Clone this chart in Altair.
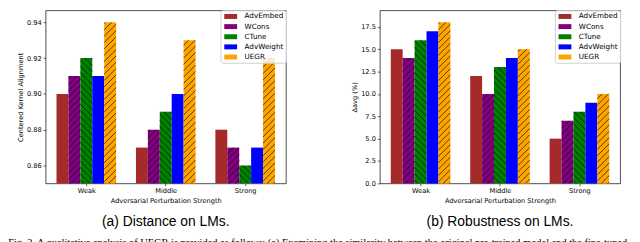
import altair as alt
import pandas as pd

groups = ["Weak", "Middle", "Strong"]
methods = ["AdvEmbed", "WCons", "CTune", "AdvWeight", "UEGR"]
colors = ["#a52a2a", "#800080", "#008000", "#0000ff", "#ffa500"]
hatches = ["", "/", "\\", "", "/"]

cka_values = {
    "AdvEmbed": [0.90, 0.87, 0.88],
    "WCons": [0.91, 0.88, 0.87],
    "CTune": [0.92, 0.89, 0.86],
    "AdvWeight": [0.91, 0.90, 0.87],
    "UEGR": [0.94, 0.93, 0.92],
}
rob_values = {
    "AdvEmbed": [15, 12, 5],
    "WCons": [14, 10, 7],
    "CTune": [16, 13, 8],
    "AdvWeight": [17, 14, 9],
    "UEGR": [18, 15, 10],
}
cka_ticks = [0.86, 0.88, 0.90, 0.92, 0.94]
rob_ticks = [0, 2.5, 5, 7.5, 10, 12.5, 15, 17.5, 20]

x_title = "Adversarial Perturbation Strength"
caption_a = "(a) Distance on LMs."
caption_b = "(b) Robustness on LMs."
body_text = ("Fig. 2.  A qualitative analysis of UEGR is provided as follows: (a) Examining the similarity "
             "between the original pre-trained model and the fine-tuned")

W = 243
H_FULL = 181
CUT = 6
H = H_FULL - CUT
BAR_W = 0.15
XLO, XHI = -0.5125, 2.5125
HATCH_GAP = 6.4

AX_FONT = "DejaVu Sans"
AX_SIZE = 6.7
LEG_SIZE = 7.3

label_expr = "[" + ",".join("'%s'" % g for g in groups) + "][datum.value]"


def hatch_segments(x0, x1, v, ylo, sx, sy, kind):
    X0, X1 = (x0 - XLO) * sx, (x1 - XLO) * sx
    Yb, Yt = 0.0, (v - ylo) * sy
    s = 1 if kind == "/" else -1
    segs = []
    cands = [Yb - s * X0, Yb - s * X1, Yt - s * X0, Yt - s * X1]
    k_lo = int(min(cands) // HATCH_GAP) - 1
    k_hi = int(max(cands) // HATCH_GAP) + 2
    for k in range(k_lo, k_hi):
        c = k * HATCH_GAP
        if s == 1:
            a, b = Yb - c, Yt - c
        else:
            a, b = c - Yt, c - Yb
        lo, hi = max(a, X0), min(b, X1)
        if hi - lo < 0.3:
            continue
        ya, yb = s * lo + c, s * hi + c
        segs.append((lo / sx + XLO, ya / sy + ylo, hi / sx + XLO, yb / sy + ylo))
    return segs


def panel(values, ylo, yhi_full, ticks, fmt, ytitle, caption):
    yhi = yhi_full - (yhi_full - ylo) * CUT / H_FULL
    sx = W / (XHI - XLO)
    sy = H / (yhi - ylo)
    rows, hrows = [], []
    for i, m in enumerate(methods):
        for g, v in enumerate(values[m]):
            xc = g + (i - 2) * BAR_W
            rows.append({"method": m, "group": groups[g], "x": xc - BAR_W / 2,
                         "x2": xc + BAR_W / 2, "y": v, "y0": ylo})
            if hatches[i]:
                for (a, b, c, d) in hatch_segments(xc - BAR_W / 2, xc + BAR_W / 2, v, ylo, sx, sy, hatches[i]):
                    hrows.append({"method": m, "hx": a, "hy": b, "hx2": c, "hy2": d})
    df = pd.DataFrame(rows)
    hdf = pd.DataFrame(hrows)
    xs = alt.Scale(domain=[XLO, XHI], nice=False, zero=False)
    ys = alt.Scale(domain=[ylo, yhi], nice=False, zero=False)
    x_axis = alt.Axis(values=[0, 1, 2], labelExpr=label_expr, grid=False)
    y_axis = alt.Axis(values=ticks, format=fmt, grid=False)
    bars = alt.Chart(df).mark_bar(strokeWidth=0).encode(
        x=alt.X("x:Q", scale=xs, title=x_title, axis=x_axis),
        x2="x2:Q",
        y=alt.Y("y:Q", scale=ys, title=ytitle, axis=y_axis),
        y2="y0:Q",
        color=alt.Color("method:N", scale=alt.Scale(domain=methods, range=colors),
                        legend=alt.Legend(title=None, orient="none", legendX=177, legendY=0,
                                          symbolType="M-1.625,-0.625H1.625V0.625H-1.625Z",
                                          symbolSize=64, symbolOffset=4, labelOffset=10,
                                          rowPadding=2.25, padding=2.2,
                                          labelFont=AX_FONT, labelFontSize=LEG_SIZE,
                                          labelColor="#000", fillColor="rgba(255,255,255,0.8)",
                                          strokeColor="#d0d0d0", cornerRadius=2,
                                          symbolStrokeWidth=0)),
    )
    hatch = alt.Chart(hdf).mark_rule(color="#000", strokeWidth=0.75, opacity=0.85).encode(
        x=alt.X("hx:Q", scale=xs, title=x_title, axis=x_axis), x2="hx2:Q",
        y=alt.Y("hy:Q", scale=ys, title=ytitle, axis=y_axis), y2="hy2:Q",
    )
    return alt.layer(bars, hatch).properties(
        width=W, height=H,
        title=alt.TitleParams(caption, orient="bottom", anchor="middle", frame="group",
                              font="Liberation Sans", fontSize=14, fontWeight="normal",
                              color="#000", offset=11),
    )


left = panel(cka_values, 0.85, 0.95, cka_ticks, ".2f", "Centered Kernel Alignment", caption_a)
right = panel(rob_values, 0.0, 20.0, rob_ticks, ".1f", "\u0394avg (%)", caption_b)

chart = alt.hconcat(left, right, spacing=65).resolve_scale(
    color="independent"
).resolve_legend(
    color="independent"
).properties(
    padding={"left": 0, "top": 0, "right": 0, "bottom": 0},
    title=alt.TitleParams(body_text, orient="bottom", anchor="start", frame="bounds",
                          font="Liberation Serif", fontSize=10.5, fontWeight="normal",
                          color="#000", offset=9, dx=-9),
).configure_view(stroke="#222", strokeWidth=0.8).configure_axis(
    labelFont=AX_FONT, labelFontSize=AX_SIZE, labelColor="#000",
    titleFont=AX_FONT, titleFontSize=AX_SIZE, titleFontWeight="normal", titleColor="#000",
    tickSize=2.5, tickColor="#000", tickWidth=0.6, labelPadding=2, titlePadding=3,
    domain=False, labelOverlap=False,
)

chart.save("out.html", embed_options={"renderer": "svg", "actions": False})
